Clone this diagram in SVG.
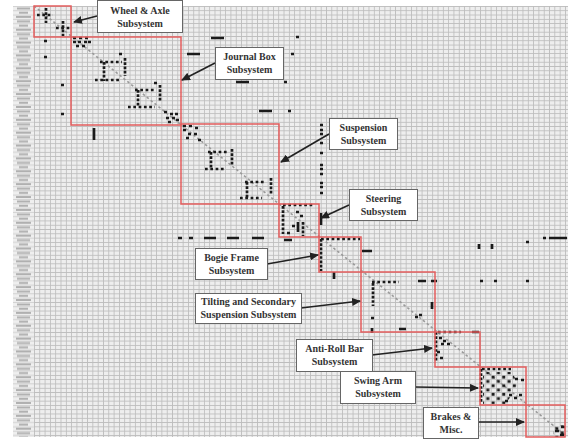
<svg xmlns="http://www.w3.org/2000/svg" width="568" height="439" viewBox="0 0 568 439">
<style>
.t{font-family:"Liberation Serif","Times New Roman",serif;font-weight:bold;font-size:10px;fill:#333;text-anchor:middle}
.cb{fill:#fff;stroke:#666;stroke-width:1}
.rb{fill:none;stroke:#e35d5d;stroke-width:1.5}
.d{fill:none;stroke:#1a1a1a;stroke-width:2.7}
.dh{stroke-dasharray:2.7 2.61}
.dv{stroke-dasharray:2.7 1.59}
.cn{fill:none;stroke:#222;stroke-width:1.6;marker-end:url(#ah)}
</style>
<defs>
<pattern id="grid" patternUnits="userSpaceOnUse" x="34" y="6" width="5.31" height="4.29">
<rect width="5.31" height="4.29" fill="#eeeeee"/>
<path d="M0 0.4H5.31M0.4 0V4.29" stroke="#bdbdbd" stroke-width="0.9" fill="none"/>
</pattern>
<pattern id="lab" patternUnits="userSpaceOnUse" x="13" y="6" width="21" height="12.87">
<rect width="21" height="12.87" fill="#efefef"/>
<path d="M0 0.4H21M0 4.69H21M0 8.98H21" stroke="#c8c8c8" stroke-width="0.8"/>
<path d="M4 2.4H17M6 6.7H15M3 11H18" stroke="#b0b0b0" stroke-width="2"/>
</pattern>
<pattern id="chk" patternUnits="userSpaceOnUse" x="34" y="6" width="10.62" height="8.58">
<rect x="1" y="0.8" width="3" height="2.8" fill="#1a1a1a"/>
<rect x="6.3" y="5.1" width="3" height="2.8" fill="#1a1a1a"/>
</pattern>
<marker id="ah" markerUnits="userSpaceOnUse" markerWidth="9" markerHeight="8" refX="8" refY="4" orient="auto">
<path d="M0 0L9 4L0 8z" fill="#222"/>
</marker>
</defs>
<rect width="568" height="439" fill="#fff"/>
<g id="matrix">
<rect x="13" y="6" width="21" height="431" fill="url(#lab)"/>
<rect x="34" y="6" width="534" height="431" fill="url(#grid)"/>
<line x1="34" y1="6" x2="565" y2="435" stroke="#9a9a9a" stroke-width="1.6" stroke-dasharray="2.5 2.5"/>
</g>
<g id="marks">
<path class="d dh" d="M37 15H53M56 28H71M100 62H122M95 80H121M135 90H156M128 107H155M208 152H229M205 169H226M245 182H266M240 198H262M283 205H314M321 239H360M372 282H399M438 332H461M482 369H511"/>
<path class="d dv" d="M46 8V23M63 21V36M104 62V81M125 58V76M138 90V107M160 85V101M211 152V169M232 149V166M247 182V199M271 178V195M283 206V234M303 222V236M321 239V271M373 283V306M436 332V362M481 369V402"/>
<path class="d" d="M44 41h3M44 57h3M61 85h3M61 114h3M94 128v12
M73 38h3M79 38h3M85 38h3M73 42h3M78 42h3M84 42h3M88 42h3M76 46h3M82 46h3
M119 54h3M154 83h3
M164 112h3M170 114h3M175 114h3M166 118h3M172 118h3M168 122h3M176 120h3
M211 38h13M296 37h3M187 54h13M291 54h3M236 82h13M284 82h3M259 111h13M288 111h3
M183 126h3M189 126h3M195 128h3M183 130h3M188 134h3M194 134h3M186 138h3M198 140h3
M320 125h3M320 130h3M320 134h3M320 143h3M320 153h3M320 165h3M320 169h3M320 174h3M320 183h3M320 187h3M320 193h3
M287 233h3M296 212h3M300 216h3M292 226h3M321 213v12M298 222v10
M178 238h4M189 238h4M204 238h12M227 238h12M252 238h12M284 240h8
M479 244v5M492 244v5M526 242h3M543 238h3M549 238h18
M362 251h10M334 272v7
M421 281h3M431 281h6M480 281h3M494 281h3M526 281h3M432 302v7
M418 281h8M371 318h3M372 328v5M415 317h3M419 315h3M399 329h7
M472 332h7M439 338h3M443 341h3M447 344h3M441 344h3M437 352h3M440 358h3
M515 379h3M521 380h3M509 395h3M514 398h3M519 395h3M505 401h3"/>
<polygon points="483,372 512,372 518,384 506,404 483,404" fill="url(#chk)"/>
<polygon points="553,425 566,425 566,437 553,437" fill="url(#chk)"/>
<path class="d" d="M555 431h4M561 427h4M560 435h4"/>
</g>
<g id="subsystem-boxes">
<rect class="rb" x="34" y="6" width="37" height="31"/>
<rect class="rb" x="71" y="37" width="110" height="88"/>
<rect class="rb" x="181" y="124" width="98" height="80"/>
<rect class="rb" x="279" y="204" width="40" height="33"/>
<rect class="rb" x="319" y="237" width="42" height="35"/>
<rect class="rb" x="361" y="272" width="74" height="60"/>
<rect class="rb" x="435" y="332" width="45" height="35"/>
<rect class="rb" x="480" y="367" width="46" height="38"/>
<rect class="rb" x="526" y="405" width="39" height="32"/>
</g>
<g id="connectors">
<line class="cn" x1="97" y1="16" x2="74" y2="22"/>
<line class="cn" x1="215" y1="63" x2="182" y2="80"/>
<line class="cn" x1="329" y1="134" x2="281" y2="162"/>
<line class="cn" x1="349" y1="205" x2="321" y2="218"/>
<line class="cn" x1="267" y1="264" x2="318" y2="255"/>
<line class="cn" x1="301" y1="308" x2="360" y2="301"/>
<line class="cn" x1="372" y1="355" x2="432" y2="348"/>
<line class="cn" x1="415" y1="387" x2="478" y2="388"/>
<line class="cn" x1="478" y1="422" x2="524" y2="422"/>
</g>
<g id="wheel-axle">
<rect class="cb" x="97.5" y="0.5" width="85" height="32"/>
<text class="t" x="140" y="14">Wheel &amp; Axle</text>
<text class="t" x="140" y="27">Subsystem</text>
</g>
<g id="journal-box">
<rect class="cb" x="215.5" y="47.5" width="68" height="32"/>
<text class="t" x="249.5" y="60">Journal Box</text>
<text class="t" x="249.5" y="73">Subsystem</text>
</g>
<g id="suspension">
<rect class="cb" x="329.5" y="118.5" width="68" height="31"/>
<text class="t" x="363.5" y="131">Suspension</text>
<text class="t" x="363.5" y="144">Subsystem</text>
</g>
<g id="steering">
<rect class="cb" x="349.5" y="189.5" width="68" height="31"/>
<text class="t" x="383.5" y="202">Steering</text>
<text class="t" x="383.5" y="215">Subsystem</text>
</g>
<g id="bogie-frame">
<rect class="cb" x="195.5" y="248.5" width="72" height="31"/>
<text class="t" x="231.5" y="261">Bogie Frame</text>
<text class="t" x="231.5" y="274">Subsystem</text>
</g>
<g id="tilting">
<rect class="cb" x="195.5" y="293.5" width="106" height="30"/>
<text class="t" x="248.5" y="305">Tilting and Secondary</text>
<text class="t" x="248.5" y="318">Suspension Subsystem</text>
</g>
<g id="anti-roll">
<rect class="cb" x="296.5" y="339.5" width="76" height="32"/>
<text class="t" x="334.5" y="352">Anti-Roll Bar</text>
<text class="t" x="334.5" y="365">Subsystem</text>
</g>
<g id="swing-arm">
<rect class="cb" x="340.5" y="371.5" width="75" height="32"/>
<text class="t" x="378" y="384">Swing Arm</text>
<text class="t" x="378" y="397">Subsystem</text>
</g>
<g id="brakes">
<rect class="cb" x="423.5" y="407.5" width="55" height="31"/>
<text class="t" x="451" y="420">Brakes &amp;</text>
<text class="t" x="451" y="433">Misc.</text>
</g>
</svg>
